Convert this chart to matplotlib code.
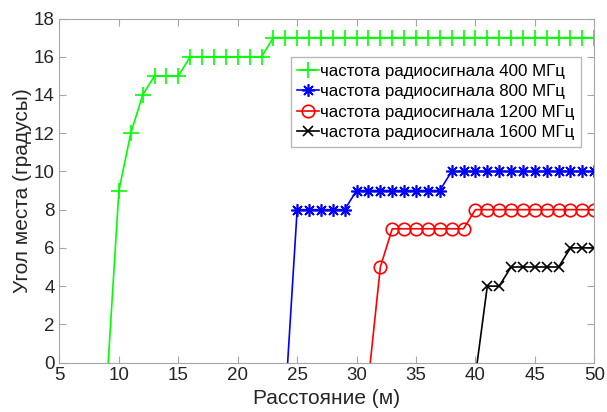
import matplotlib
matplotlib.use("Agg")
import matplotlib.pyplot as plt

plt.rcParams['font.family'] = ['Liberation Sans', 'DejaVu Sans']

# distance (m) and elevation angle (degrees) for each frequency
x_400 = list(range(9, 51))
y_400 = [-1, 9, 12, 14, 15, 15, 15] + [16] * 7 + [17] * 28

x_800 = list(range(24, 51))
y_800 = [-2] + [8] * 5 + [9] * 8 + [10] * 13

x_1200 = list(range(31, 51))
y_1200 = [-0.9, 5] + [7] * 7 + [8] * 11

x_1600 = list(range(40, 51))
y_1600 = [-0.7, 4, 4] + [5] * 5 + [6] * 3

labels = ['частота радиосигнала 400 МГц', 'частота радиосигнала 800 МГц',
          'частота радиосигнала 1200 МГц', 'частота радиосигнала 1600 МГц']

fig = plt.figure(figsize=(6.07, 4.12), dpi=100)
ax = fig.add_axes([0.098, 0.120, 0.881, 0.835])

ax.plot(x_400, y_400, color=(0, 1, 0), marker='+', markersize=11, mew=1.2, lw=1.2, label=labels[0])
ax.plot(x_800, y_800, color=(0, 0, 1), marker=(8, 2, 0), markersize=9, mew=1.2, lw=1.2, label=labels[1])
ax.plot(x_1200, y_1200, color=(1, 0, 0), marker='o', markersize=9, mew=1.2, lw=1.2,
        mfc='none', label=labels[2])
ax.plot(x_1600, y_1600, color='black', marker='x', markersize=7, mew=1.2, lw=1.2, label=labels[3])

ax.set_xlim(5, 50)
ax.set_ylim(0, 18)
ax.set_xticks(range(5, 51, 5))
ax.set_yticks(range(0, 19, 2))

for s in ax.spines.values():
    s.set_color('#a6a6a6')
ax.tick_params(direction='in', top=True, right=True, colors='#a6a6a6',
               labelcolor='#262626', labelsize=13.5, length=5)

ax.set_xlabel('Расстояние (м)', fontsize=15, color='#262626', labelpad=3)
ax.set_ylabel('Угол места (градусы)', fontsize=15, color='#262626', labelpad=1)

leg = ax.legend(loc='upper right', bbox_to_anchor=(0.976, 0.888), fontsize=12.2,
                frameon=True, fancybox=False, handlelength=1.3, handletextpad=0.05,
                borderpad=0.4, labelspacing=0.32, borderaxespad=0)
leg.get_frame().set_edgecolor('#a6a6a6')
leg.get_frame().set_linewidth(1.0)

fig.savefig('out.png', dpi=100)
